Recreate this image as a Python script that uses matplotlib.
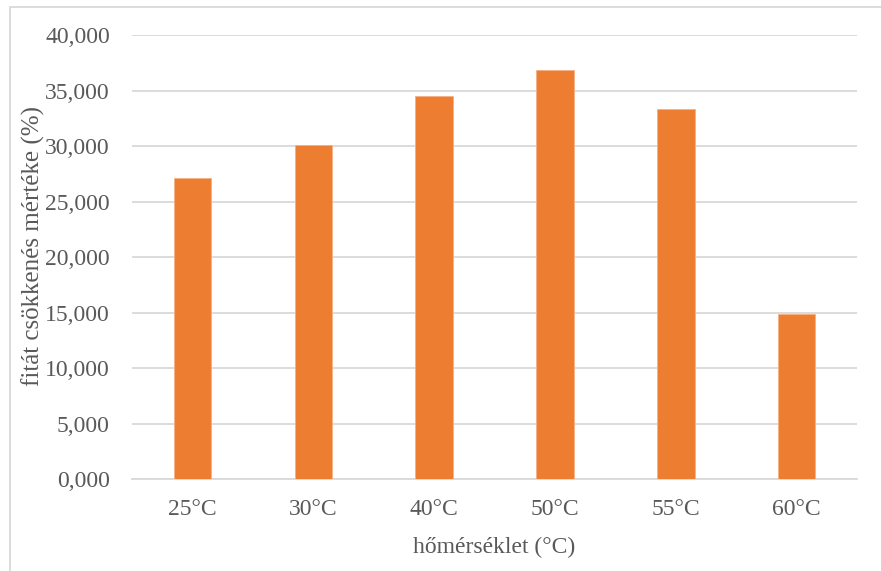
import matplotlib.pyplot as plt
from matplotlib.patches import Rectangle
from matplotlib.ticker import FuncFormatter

# fitát csökkenés mértéke hőmérséklet szerint
homerseklet = ["25°C", "30°C", "40°C", "50°C", "55°C", "60°C"]
csokkenes = [27.1, 30.1, 34.5, 36.9, 33.4, 14.9]
y_ticks = [0, 5, 10, 15, 20, 25, 30, 35, 40]

plt.rcParams["font.family"] = ["Liberation Serif", "DejaVu Serif"]

fig = plt.figure(figsize=(8.81, 5.71), dpi=100)
ax = fig.add_axes([0.1498, 0.1606, 0.8230, 0.7776])

x = range(len(homerseklet))
ax.bar(x, csokkenes, width=0.31, color="#ED7D31", edgecolor="#F4B183", linewidth=0.6, zorder=3)

ax.set_xlim(-0.5, len(homerseklet) - 0.5)
ax.set_ylim(0, 40)
ax.set_yticks(y_ticks)
ax.yaxis.set_major_formatter(FuncFormatter(lambda v, _: f"{int(v)},000"))
ax.set_xticks(list(x))
ax.set_xticklabels(homerseklet)

ax.grid(axis="y", color="#d9d9d9", linewidth=1.3, zorder=0)
for side in ["top", "right", "left"]:
    ax.spines[side].set_visible(False)
ax.spines["bottom"].set_color("#d9d9d9")
ax.spines["bottom"].set_linewidth(1.3)
ax.tick_params(axis="both", length=0, labelsize=17, colors="#595959")
ax.tick_params(axis="y", pad=16)
ax.tick_params(axis="x", pad=14)

ax.set_xlabel("hőmérséklet (°C)", fontsize=17, color="#595959", labelpad=12)
ax.set_ylabel("fitát csökkenés mértéke (%)", fontsize=18, color="#595959")
ax.yaxis.set_label_coords(-0.12, 0.525)

# keret a diagram körül
fig.patches.append(Rectangle((10 / 881, -0.1), 1.2, 1.1 - 7 / 571,
                             transform=fig.transFigure, fill=False,
                             edgecolor="#d9d9d9", linewidth=1.3))

fig.savefig("out.png", dpi=100)
